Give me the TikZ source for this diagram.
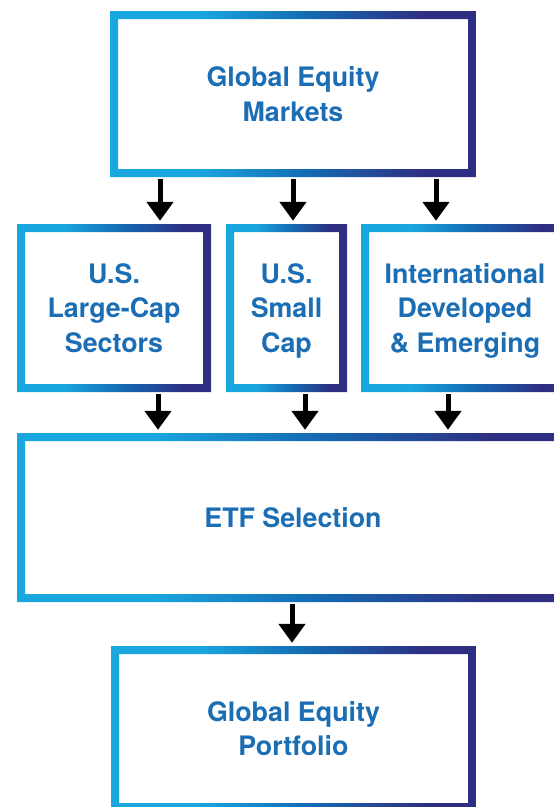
\documentclass[tikz,border=0pt]{standalone}
\usepackage{fontspec}
\setmainfont{TeX Gyre Heros}
\usetikzlibrary{arrows.meta}

\definecolor{edgecyan}{HTML}{1AA6DF}
\definecolor{edgeblue}{HTML}{146BB3}
\definecolor{edgenavy}{HTML}{2E2F82}
\definecolor{labelblue}{HTML}{1B6DB4}

\pgfdeclarehorizontalshading{edgeshade}{100bp}{color(0bp)=(edgecyan); color(37bp)=(edgecyan); color(52bp)=(edgeblue); color(68bp)=(edgenavy); color(100bp)=(edgenavy)}

\tikzstyle{stage}=[rectangle, inner sep=0pt, align=center, text=labelblue, text depth=0pt,
  font=\fontsize{26.8}{34.5}\selectfont\bfseries,
  path picture={\shade[shading=edgeshade, even odd rule]
    (path picture bounding box.south west) rectangle (path picture bounding box.north east)
    ([shift={(8pt,8pt)}]path picture bounding box.south west) rectangle ([shift={(-8pt,-8pt)}]path picture bounding box.north east);}]
\tikzstyle{flow}=[-{Triangle[width=26pt,length=19pt]}, line width=5pt, shorten >=3pt, shorten <=2pt]

\begin{document}
\begin{tikzpicture}[x=1pt,y=-1pt]
  \useasboundingbox (0,0) rectangle (554,807);
  \clip (0,0) rectangle (554,807);

  \node (gem) at (293,94) [stage, minimum width=366pt, minimum height=166pt] {Global Equity\\Markets};
  \node (lcs) at (114,308) [stage, minimum width=194pt, minimum height=168pt] {U.S.\\Large-Cap\\Sectors};
  \node (ssc) at (286.5,308) [stage, minimum width=121pt, minimum height=168pt] {U.S.\\Small\\Cap};
  \node (ide) at (465,308) [stage, minimum width=208pt, minimum height=168pt] {International\\Developed\\\& Emerging};
  \node (etf) at (293,517.5) [stage, minimum width=552pt, minimum height=169pt] {ETF Selection};
  \node (gep) at (293.5,728.5) [stage, minimum width=365pt, minimum height=165pt] {Global Equity\\Portfolio};

  \foreach \n/\a/\b in {lcs/-133/46, ssc/0/6.5, ide/143/-29}{
    \draw[flow] ([xshift=\a pt]gem.south) -- ([xshift=\b pt]\n.north);
  }

  \foreach \n/\a/\b in {lcs/44/-135, ssc/18.5/12, ide/-17/155}{
    \draw[flow] ([xshift=\a pt]\n.south) -- ([xshift=\b pt]etf.north);
  }

  \draw[flow] ([xshift=-1pt]etf.south) -- ([xshift=-1.5pt]gep.north);
\end{tikzpicture}
\end{document}
